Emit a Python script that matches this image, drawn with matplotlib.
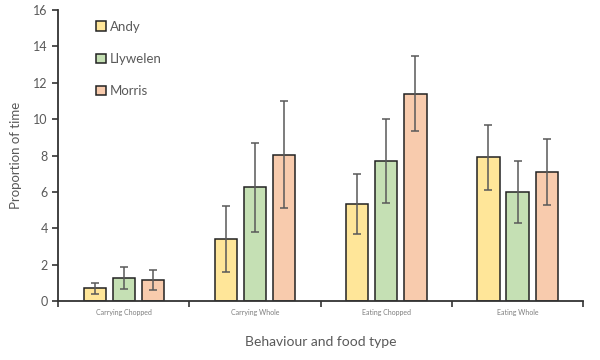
import numpy as np
import matplotlib.pyplot as plt

categories = ['Carrying Chopped', 'Carrying Whole', 'Eating Chopped', 'Eating Whole']
names = ['Andy', 'Llywelen', 'Morris']
andy = [0.7, 3.4, 5.35, 7.9]
andy_err = [0.3, 1.8, 1.65, 1.8]
llywelen = [1.25, 6.25, 7.7, 6.0]
llywelen_err = [0.6, 2.45, 2.3, 1.7]
morris = [1.15, 8.05, 11.4, 7.1]
morris_err = [0.55, 2.95, 2.05, 1.8]

colors = ['#FFE699', '#C5E0B4', '#F8CBAD']
grey = '#595959'

plt.rcParams['font.family'] = ['Lato', 'DejaVu Sans']

fig = plt.figure(figsize=(6, 3.6), dpi=100)
ax = fig.add_axes([0.097, 0.164, 0.875, 0.808])

x = np.arange(len(categories))
w = 0.17
step = 0.222
for i, (vals, errs) in enumerate([(andy, andy_err), (llywelen, llywelen_err), (morris, morris_err)]):
    ax.bar(x + (i - 1) * step, vals, w, color=colors[i], edgecolor='#222222',
           linewidth=1.1, label=names[i], zorder=2,
           yerr=errs, error_kw=dict(ecolor=grey, elinewidth=1.1, capsize=3, capthick=1.1))

ax.set_xlim(-0.5, 3.5)
ax.set_ylim(0, 16)
ax.set_yticks(range(0, 17, 2))
ax.set_xticks(x)
ax.set_xticklabels(categories, fontsize=5, color='#7f7f7f')
ax.set_xticks(np.arange(-0.5, 3.6, 1), minor=True)
ax.tick_params(axis='x', which='major', length=0, pad=6)
ax.tick_params(axis='x', which='minor', length=4, width=1.2, color='#333333')
ax.tick_params(axis='y', length=4, width=1.2, color='#333333', labelsize=9, labelcolor=grey)

for s in ['top', 'right']:
    ax.spines[s].set_visible(False)
for s in ['left', 'bottom']:
    ax.spines[s].set_color('#333333')
    ax.spines[s].set_linewidth(1.3)

ax.set_ylabel('Proportion of time', fontsize=9.5, color=grey, labelpad=8)
ax.set_xlabel('Behaviour and food type', fontsize=10, color=grey, labelpad=14)

ax.legend(loc='upper left', bbox_to_anchor=(0.05, 1.005), frameon=False,
          fontsize=9.5, labelcolor=grey, handlelength=0.7, handleheight=0.7,
          handletextpad=0.3, labelspacing=1.55)

fig.savefig('out.png', dpi=100)
